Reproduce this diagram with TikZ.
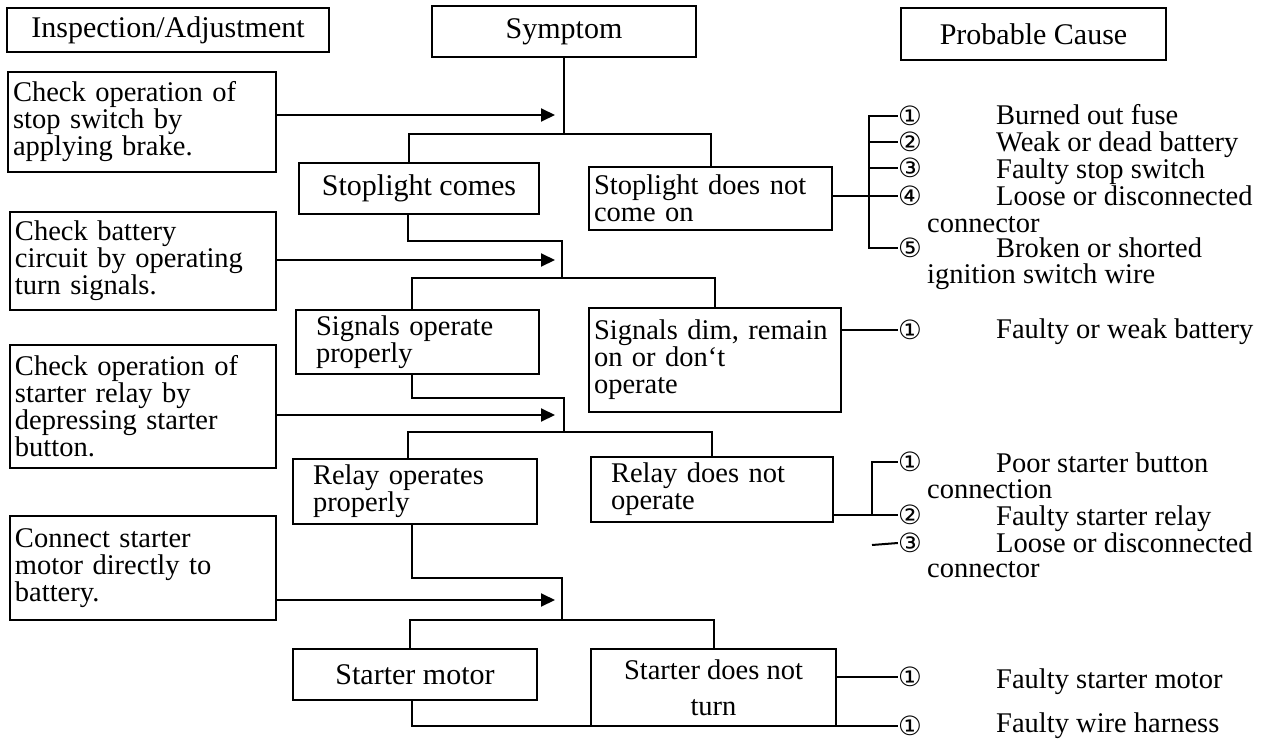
\documentclass[tikz,border=0pt]{standalone}
\usepackage{fontspec}
\setmainfont{Liberation Serif}
\newfontfamily\circfont{DejaVu Sans}
\usetikzlibrary{arrows.meta,positioning,calc}
\newcommand{\pad}{\hspace*{15pt}}
\hyphenpenalty=10000
\exhyphenpenalty=10000
\tikzset{
  >={Triangle[length=14pt,width=13pt]},
  every node/.style={font=\fontsize{28.5}{27}\selectfont},
  box/.style={draw,line width=2pt,inner xsep=5pt,inner ysep=2pt,align=left},
  headbox/.style={box,align=center,font=\fontsize{30}{36}\selectfont},
  line/.style={line width=2pt},
  arrow/.style={->,line width=2pt},
  num/.style={inner sep=0pt,font=\circfont\fontsize{26.5}{26}\selectfont},
  cause/.style={anchor=base west,inner sep=0pt,font=\fontsize{28.5}{27}\selectfont},
}
\begin{document}
\begin{tikzpicture}[x=1pt,y=-1pt]
\useasboundingbox (0,0) rectangle (1286,744);

\node[headbox,minimum width=322pt,minimum height=44pt] (insp) at (168,30) {Inspection/Adjustment};
\node[headbox,minimum width=264pt,minimum height=51pt] (sym) at (564,31.5) {Symptom};
\node[headbox,minimum width=265pt,minimum height=52pt] (prob) at (1033.5,34) {Probable Cause};

\node[box,text width=258pt,minimum height=100pt] (chk1) at (142,122) {Check operation of\\stop switch by\\applying brake.};
\node[box,text width=256pt,minimum height=98pt] (chk2) at (143,261) {Check battery\\circuit by operating\\turn signals.};
\node[box,text width=256pt,minimum height=123pt] (chk3) at (143,406.5) {Check operation of\\starter relay by\\depressing starter\\button.};
\node[box,text width=256pt,minimum height=104pt] (chk4) at (143,568) {Connect starter\\motor directly to\\battery.};

\node[headbox,minimum width=240pt,minimum height=51pt] (slok) at (419,188.5) {Stoplight comes};
\node[box,text width=233pt,minimum height=63pt] (slno) at (710.5,198.5) {Stoplight does not\\come on};
\node[box,text width=233pt,minimum height=64pt] (sgok) at (417.5,342) {\pad Signals operate\\\pad properly};
\node[box,text width=242pt,minimum height=104pt] (sgdim) at (715,360) {Signals dim, remain\\on or don‘t\\operate};
\node[box,text width=234pt,minimum height=65pt] (rlok) at (415,491.5) {\pad Relay operates\\\pad properly};
\node[box,text width=232pt,minimum height=65pt] (rlno) at (712,489.5) {\pad Relay does not\\\pad operate};
\node[headbox,minimum width=244pt,minimum height=51pt] (stok) at (415,674.5) {Starter motor};
\node[headbox,minimum width=245pt,minimum height=77pt,font=\fontsize{28.5}{36}\selectfont] (stno) at (713.5,687.5) {Starter does not\\turn};

\node[num] (n11) at (910,116) {①};
\node[num] (n12) at (910,142) {②};
\node[num] (n13) at (910,168) {③};
\node[num] (n14) at (910,196) {④};
\node[num] (n15) at (910,248) {⑤};
\node[num] (n21) at (910,330) {①};
\node[num] (n31) at (910,462) {①};
\node[num] (n32) at (910,515) {②};
\node[num] (n33) at (910,543) {③};
\node[num] (n41) at (910,677) {①};
\node[num] (n42) at (910,726) {①};

\node[cause] (c11) at (996,124) {Burned out fuse};
\node[cause] (c12) at (996,151) {Weak or dead battery};
\node[cause] (c13) at (996,178) {Faulty stop switch};
\node[cause] (c14) at (996,205) {Loose or disconnected};
\node[cause] (c14b) at (927,232) {connector};
\node[cause] (c15) at (996,257) {Broken or shorted};
\node[cause] (c15b) at (927,283) {ignition switch wire};
\node[cause] (c21) at (996,338) {Faulty or weak battery};
\node[cause] (c31) at (996,472) {Poor starter button};
\node[cause] (c31b) at (927,498) {connection};
\node[cause] (c32) at (996,525) {Faulty starter relay};
\node[cause] (c33) at (996,552) {Loose or disconnected};
\node[cause] (c33b) at (927,577) {connector};
\node[cause] (c41) at (996,688) {Faulty starter motor};
\node[cause] (c42) at (996,732) {Faulty wire harness};

\coordinate (j1) at (564,134);
\coordinate (t1) at (562,241);
\coordinate (j2) at (562,278);
\coordinate (t2) at (564,398);
\coordinate (j3) at (564,432);
\coordinate (t3) at (562,578);
\coordinate (j4) at (562,620);
\coordinate (a1) at (555,115);
\coordinate (a2) at (555,260);
\coordinate (a3) at (555,415);
\coordinate (a4) at (555,600);
\coordinate (br1) at (869,196);
\coordinate (br3) at (872,515);
\coordinate (br3b) at (872,545);

\draw[line] (sym.south) -- (j1);
\draw[line] ([xshift=-10pt]slok.north) |- (j1) -| (slno.north);
\draw[line] ([xshift=-11pt]slok.south) |- (t1) -- (j2);
\draw[line] ([xshift=-6pt]sgok.north) |- (j2) -| (sgdim.north);
\draw[line] ([xshift=-6pt]sgok.south) |- (t2) -- (j3);
\draw[line] ([xshift=-7pt]rlok.north) |- (j3) -| (rlno.north);
\draw[line] ([xshift=-3pt]rlok.south) |- (t3) -- (j4);
\draw[line] ([xshift=-5pt]stok.north) |- (j4) -| (stno.north);
\draw[line] ([xshift=-3pt]stok.south) |- (n42.west);

\draw[arrow] (chk1.east |- a1) -- (a1);
\draw[arrow] (chk2.east |- a2) -- (a2);
\draw[arrow] (chk3.east |- a3) -- (a3);
\draw[arrow] (chk4.east |- a4) -- (a4);

\draw[line] (slno.east |- br1) -- (n14.west);
\draw[line] (n11.west) -| (br1) |- (n15.west);
\draw[line] (br1 |- n12.west) -- (n12.west);
\draw[line] (br1 |- n13.west) -- (n13.west);
\draw[line] (sgdim.east |- n21.west) -- (n21.west);
\draw[line] (rlno.east |- n32.west) -- (n32.west);
\draw[line] (n31.west) -| (br3);
\draw[line] (br3b) -- (n33.west);
\draw[line] (stno.east |- n41.west) -- (n41.west);

\end{tikzpicture}
\end{document}
